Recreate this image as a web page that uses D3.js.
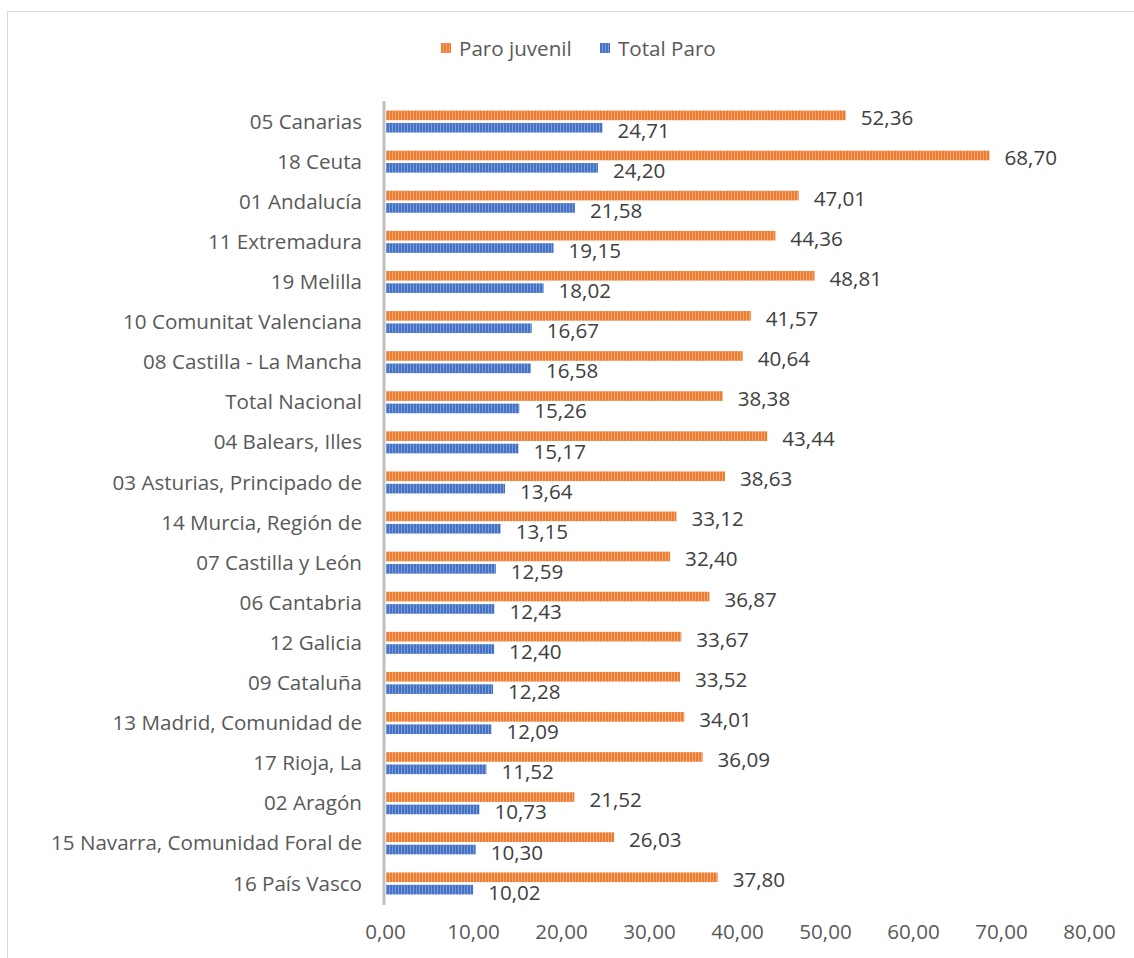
<!DOCTYPE html>
<html>
<head>
<meta charset="utf-8">
<script src="https://cdn.jsdelivr.net/npm/d3@7"></script>
<style>
  body { margin: 0; background: #fff; }
  text { font-family: "Open Sans", Lato, sans-serif; }
</style>
</head>
<body>
<div id="chart"></div>
<script>
// data, top to bottom as in the chart
const regions = [
    "05 Canarias", "18 Ceuta", "01 Andalucía", "11 Extremadura", "19 Melilla",
    "10 Comunitat Valenciana", "08 Castilla - La Mancha", "Total Nacional",
    "04 Balears, Illes", "03 Asturias, Principado de", "14 Murcia, Región de",
    "07 Castilla y León", "06 Cantabria", "12 Galicia", "09 Cataluña",
    "13 Madrid, Comunidad de", "17 Rioja, La", "02 Aragón",
    "15 Navarra, Comunidad Foral de", "16 País Vasco"
];
const paroJuvenil = [52.36, 68.70, 47.01, 44.36, 48.81, 41.57, 40.64, 38.38, 43.44, 38.63,
    33.12, 32.40, 36.87, 33.67, 33.52, 34.01, 36.09, 21.52, 26.03, 37.80];
const totalParo = [24.71, 24.20, 21.58, 19.15, 18.02, 16.67, 16.58, 15.26, 15.17, 13.64,
    13.15, 12.59, 12.43, 12.40, 12.28, 12.09, 11.52, 10.73, 10.30, 10.02];
const seriesNames = ["Paro juvenil", "Total Paro"];
const seriesColors = ["#ED7D31", "#4472C4"];
const seriesLight = ["#F4A878", "#7C9BD6"];
const xTicks = [0, 10, 20, 30, 40, 50, 60, 70, 80];

const width = 1134, height = 958;
const fontSize = 20.6;
const locale = d3.formatLocale({decimal: ",", thousands: ".", grouping: [3], currency: ["", "€"]});
const fmt = locale.format(".2f");

let svg = d3.select("#chart")
    .append("svg")
    .attr("width", width)
    .attr("height", height);

// striped fills
let defs = svg.append("defs");
seriesColors.forEach(function(c, i) {
    let p = defs.append("pattern")
        .attr("id", "stripe" + i)
        .attr("patternUnits", "userSpaceOnUse")
        .attr("width", 3)
        .attr("height", 10);
    p.append("rect").attr("width", 3).attr("height", 10).attr("fill", c);
    p.append("rect").attr("x", 2).attr("width", 1).attr("height", 10).attr("fill", seriesLight[i]);
});

// chart frame
svg.append("rect")
    .attr("x", 7.5).attr("y", 11.5)
    .attr("width", 1140).attr("height", 960)
    .attr("fill", "none")
    .attr("stroke", "#d9d9d9");

let x = d3.scaleLinear()
    .domain([0, 80])
    .range([385, 1089]);

let y = d3.scaleBand()
    .domain(regions)
    .range([102, 904]);

let ySub = d3.scaleBand()
    .domain(seriesNames)
    .range([-11.5, 10.5])
    .paddingInner(0.22);

// x axis tick labels
let xAxis = svg.append("g")
    .attr("transform", "translate(0,904)")
    .call(d3.axisBottom(x).tickValues(xTicks).tickFormat(fmt).tickSize(0).tickPadding(20));
xAxis.select(".domain").remove();
xAxis.selectAll("text")
    .attr("font-size", fontSize)
    .attr("fill", "#595959")
    .style("font-family", "'Open Sans', Lato, sans-serif");

// category labels
let yAxis = svg.append("g")
    .attr("transform", "translate(383,0)")
    .call(d3.axisLeft(y).tickSize(0).tickPadding(21));
yAxis.select(".domain").remove();
yAxis.selectAll("text")
    .attr("font-size", fontSize)
    .attr("fill", "#595959")
    .style("font-family", "'Open Sans', Lato, sans-serif");

const series = [paroJuvenil, totalParo];

series.forEach(function(vals, si) {
    let g = svg.append("g");
    g.selectAll("rect")
        .data(vals)
        .enter()
        .append("rect")
        .attr("x", x(0) + 1)
        .attr("y", function(d, i) { return y(regions[i]) + y.bandwidth() / 2 + ySub(seriesNames[si]); })
        .attr("width", function(d) { return x(d) - x(0) - 1; })
        .attr("height", ySub.bandwidth())
        .attr("fill", "url(#stripe" + si + ")");

    g.selectAll("text")
        .data(vals)
        .enter()
        .append("text")
        .attr("x", function(d) { return x(d) + 15; })
        .attr("y", function(d, i) { return y(regions[i]) + y.bandwidth() / 2 + ySub(seriesNames[si]) + ySub.bandwidth() / 2 + 2; })
        .attr("dominant-baseline", "central")
        .attr("font-size", fontSize)
        .attr("fill", "#404040")
        .text(function(d) { return fmt(d); });
});

// vertical axis line
svg.append("line")
    .attr("x1", 384).attr("x2", 384)
    .attr("y1", 101).attr("y2", 905)
    .attr("stroke", "#bfbfbf")
    .attr("stroke-width", 3);

// legend
let legend = svg.append("g");
const legendX = [441, 600];
seriesNames.forEach(function(name, i) {
    legend.append("rect")
        .attr("x", legendX[i]).attr("y", 43)
        .attr("width", 10).attr("height", 10)
        .attr("fill", "url(#stripe" + i + ")");
    legend.append("text")
        .attr("x", legendX[i] + 18).attr("y", 48)
        .attr("dominant-baseline", "central")
        .attr("font-size", fontSize)
        .attr("fill", "#595959")
        .text(name);
});
</script>
</body>
</html>
